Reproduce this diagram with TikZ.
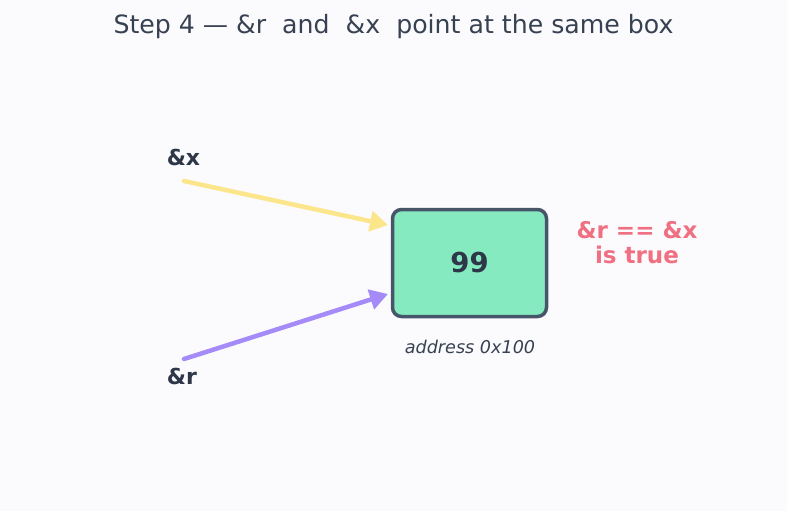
\documentclass[tikz,border=0pt]{standalone}
\usepackage{fontspec}
\setmainfont{DejaVu Sans}
\usetikzlibrary{arrows.meta}
\definecolor{bgc}{HTML}{FBFBFE}
\definecolor{titlec}{HTML}{374151}
\definecolor{inkc}{HTML}{2D3748}
\definecolor{boxfill}{HTML}{86EAC0}
\definecolor{boxline}{HTML}{475569}
\definecolor{yellowc}{HTML}{FCE68C}
\definecolor{purplec}{HTML}{A48BF8}
\definecolor{redc}{HTML}{F07082}
\tikzset{
  lbl/.style={font=\fontsize{22}{26}\selectfont\bfseries, text=inkc, inner sep=0pt},
  ptr/.style={line width=4.5pt, line cap=round, -{Triangle[length=18pt,width=20pt]}},
}
\begin{document}
\begin{tikzpicture}[x=1pt,y=-1pt]
\fill[bgc] (0,0) rectangle (787,511);
\useasboundingbox (0,0) rectangle (787,511);
\node[font=\fontsize{25.2}{30}\selectfont, text=titlec, inner sep=0pt] (title) at (393.5,26.5) {Step 4 — \&r\ \ and\ \ \&x\ \ point at the same box};
\node[draw=boxline, line width=3.5pt, fill=boxfill, rounded corners=9pt, minimum width=154pt, minimum height=107pt, inner sep=0pt] (box) at (469.5,263) {};
\node[font=\fontsize{27.5}{32}\selectfont\bfseries, text=inkc, inner sep=0pt] (val) at (box.center) {99};
\node[font=\fontsize{17.6}{21}\selectfont\itshape, text=titlec, inner sep=0pt] (addr) at (470,347) {address 0x100};
\node[font=\fontsize{23}{27}\selectfont\bfseries, text=redc, align=center, inner sep=0pt] (eq) at (637,243) {\&r == \&x\\[-2pt]is true};
\node[lbl] (x) at (183.5,157) {\&x};
\node[lbl] (r) at (182,376) {\&r};
\coordinate (xs) at (184,181);
\coordinate (rs) at (184,359);
\coordinate (xe) at (388,225);
\coordinate (re) at (388,294);
\draw[ptr, yellowc] (xs) -- (xe);
\draw[ptr, purplec] (rs) -- (re);
\end{tikzpicture}
\end{document}
